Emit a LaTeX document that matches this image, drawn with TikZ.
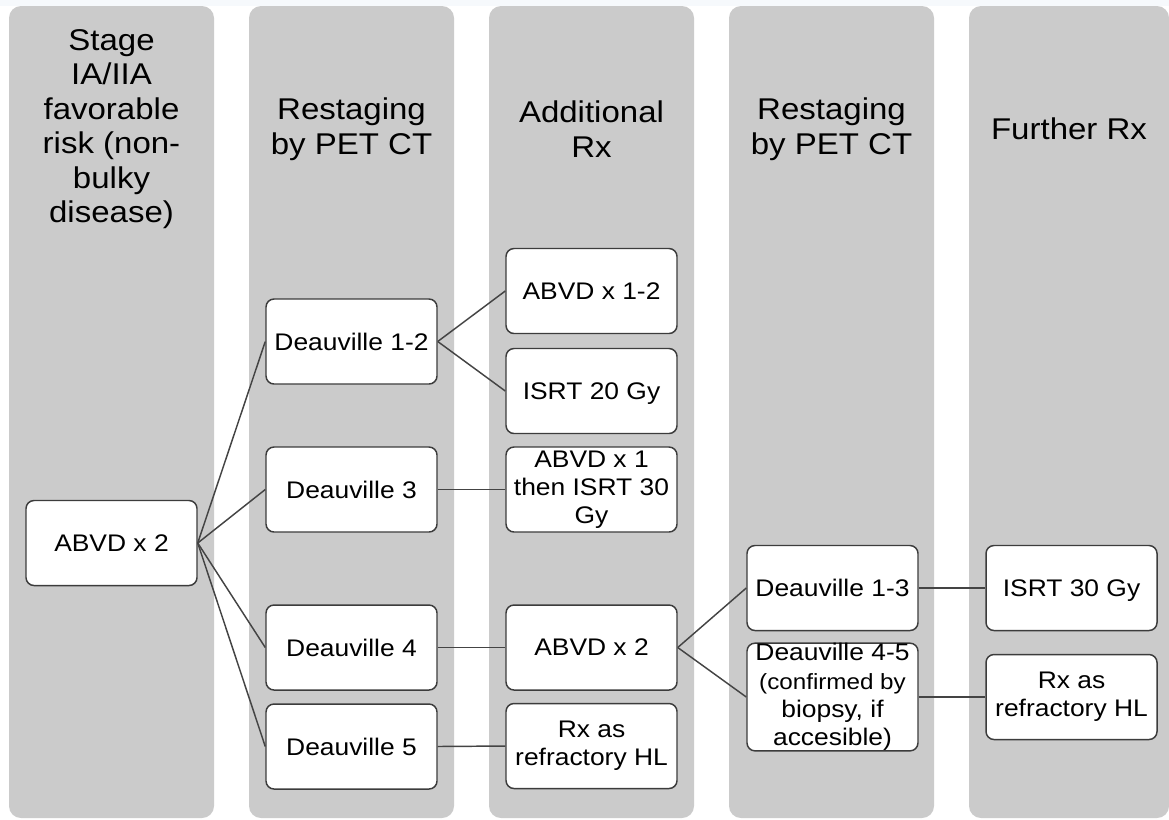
\documentclass[tikz,border=0pt]{standalone}
\usepackage{fontspec}
\setmainfont[FakeStretch=1.1]{Liberation Sans}

\definecolor{lanegray}{HTML}{CBCBCB}
\definecolor{edgegray}{HTML}{3C3C3C}
\definecolor{wiregray}{HTML}{444444}
\definecolor{stripblue}{HTML}{F6F9FC}

\begin{document}
\begin{tikzpicture}[
  x=0.75pt, y=-0.75pt,
  lane/.style={fill=lanegray, draw=none, rounded corners=9pt},
  header/.style={align=center, inner sep=0pt,
    font=\fontsize{22.5}{25.9}\selectfont},
  card/.style={draw=edgegray, fill=white, line width=1.1pt,
    rounded corners=6pt, minimum width=128.25pt, minimum height=63.75pt,
    inner sep=1pt, align=center, font=\fontsize{18}{21}\selectfont},
  oneline/.style={text depth=0pt},
  wire/.style={draw=wiregray, line width=1.1pt}
]
\useasboundingbox (0,0) rectangle (1169,819);

% thin strip along the top edge
\fill[stripblue] (0,0) rectangle (1169,6);

% column lanes
\fill[lane] (9,6)   rectangle (214,818);
\fill[lane] (249,6) rectangle (454,818);
\fill[lane] (489,6) rectangle (694,818);
\fill[lane] (729,6) rectangle (934,818);
\fill[lane] (969,6) rectangle (1169,818);

% column headings
\node[header] (h1) at (111.5,129) {Stage\\IA/IIA\\favorable\\risk (non-\\bulky\\disease)};
\node[header] (h2) at (351.5,129) {Restaging\\by PET CT};
\node[header] (h3) at (591.5,129) {Additional\\Rx};
\node[header] (h4) at (831.5,129) {Restaging\\by PET CT};
\node[header] (h5) at (1069,129) {Further Rx};

% first treatment
\node[card, oneline] (a0) at (111.5,543) {ABVD x 2};

% interim PET response
\node[card, oneline] (d12) at (351.5,341.5) {Deauville 1-2};
\node[card, oneline] (d3)  at (351.5,489.5) {Deauville 3};
\node[card, oneline] (d4)  at (351.5,647.5) {Deauville 4};
\node[card, oneline] (d5)  at (351.5,746.5) {Deauville 5};

% additional treatment
\node[card, oneline] (r12)    at (591.5,291)   {ABVD x 1-2};
\node[card, oneline] (isrt20) at (591.5,391)   {ISRT 20 Gy};
\node[card] (abvd1)  at (591.5,489.5) {ABVD x 1\\then ISRT 30\\Gy};
\node[card, oneline] (abvd2)  at (591.5,647.5) {ABVD x 2};
\node[card] (rxhl)   at (591.5,746)   {Rx as\\refractory HL};

% second PET response
\node[card, minimum height=78pt, inner ysep=0pt] (d45) at (832.5,697)
  {Deauville 4-5\\[1pt]\fontsize{16.5}{17.5}\selectfont (confirmed by\\biopsy, if\\accesible)};
\node[card, oneline] (d13) at (832.5,588) {Deauville 1-3};

% further treatment
\node[card, oneline] (isrt30) at (1071.5,588) {ISRT 30 Gy};
\node[card] (rxhl2)  at (1071.5,697) {Rx as\\refractory HL};

% connectors
\draw[wire] (a0.east) -- (d12.west);
\draw[wire] (a0.east) -- (d3.west);
\draw[wire] (a0.east) -- (d4.west);
\draw[wire] (a0.east) -- (d5.west);
\draw[wire] (d12.east) -- (r12.west);
\draw[wire] (d12.east) -- (isrt20.west);
\draw[wire] (d3.east) -- (abvd1.west);
\draw[wire] (d4.east) -- (abvd2.west);
\draw[wire] (d5.east) -- (rxhl.west);
\draw[wire] (abvd2.east) -- (d13.west);
\draw[wire] (abvd2.east) -- (d45.west);
\draw[wire] (d13.east) -- (isrt30.west);
\draw[wire] (d45.east) -- (rxhl2.west);
\end{tikzpicture}
\end{document}
